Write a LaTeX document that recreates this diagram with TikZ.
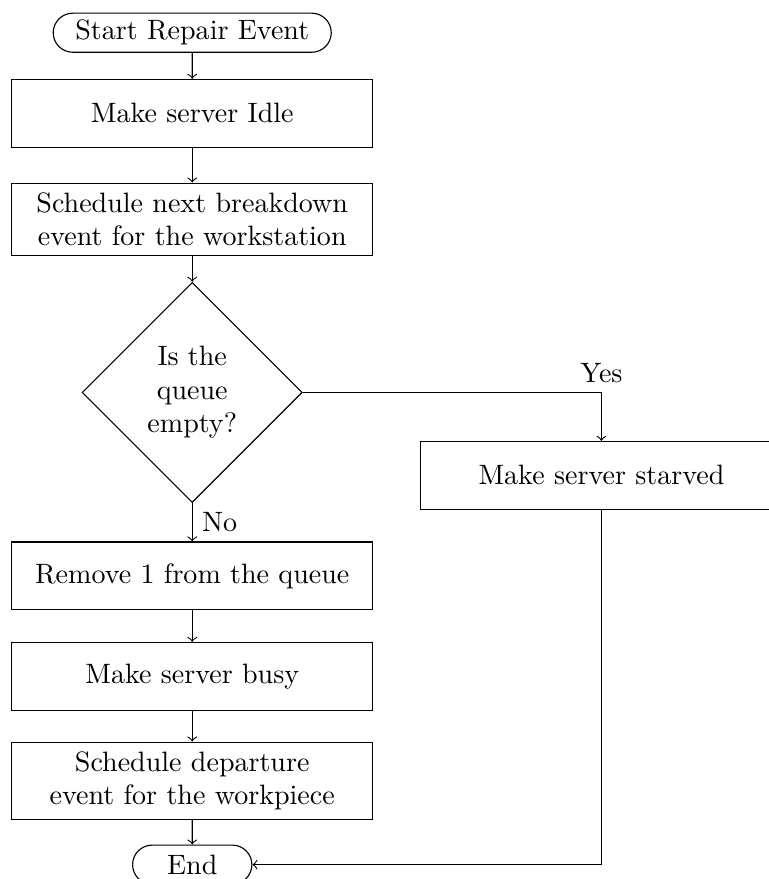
\documentclass[tikz,border=0pt]{standalone}
\usetikzlibrary{shapes}

\begin{document}
\begin{tikzpicture}[
    process/.style={draw, rectangle, minimum width=4.53cm, minimum height=0.85cm, align=center},
    terminal/.style={draw, rounded rectangle, minimum height=0.49cm, inner ysep=2pt},
    decision/.style={draw, diamond, aspect=1, minimum size=2.76cm, inner sep=0pt, align=center}]
    \useasboundingbox (0,0) rectangle (9.63,-11.02);
    % main column
    \node[terminal, minimum width=3.72cm] at (2.41,-0.41) (start) {Start Repair Event};
    \node[process] at (2.41,-1.42) (idle) {Make server Idle};
    \node[process] at (2.41,-2.75) (sched) {Schedule next breakdown\\event for the workstation};
    \node[decision] at (2.41,-4.92) (queue) {Is the\\queue\\empty?};
    \node[process] at (2.41,-7.22) (remove) {Remove 1 from the queue};
    \node[process] at (2.41,-8.48) (busy) {Make server busy};
    \node[process] at (2.41,-9.79) (depart) {Schedule departure\\event for the workpiece};
    \node[terminal, minimum width=1.73cm] at (2.41,-10.84) (end) {End};
    % side branch
    \node[process] at (7.54,-5.96) (starved) {Make server starved};

    \foreach \a/\b in {start/idle, idle/sched, sched/queue, remove/busy, busy/depart, depart/end}
        \draw[->] (\a) -- (\b);
    \draw[->] (queue) -- node[right] {No} (remove);
    \draw[->] (queue.east) -| node[above] {Yes} (starved);
    \draw[->] (starved) |- (end);
\end{tikzpicture}
\end{document}
